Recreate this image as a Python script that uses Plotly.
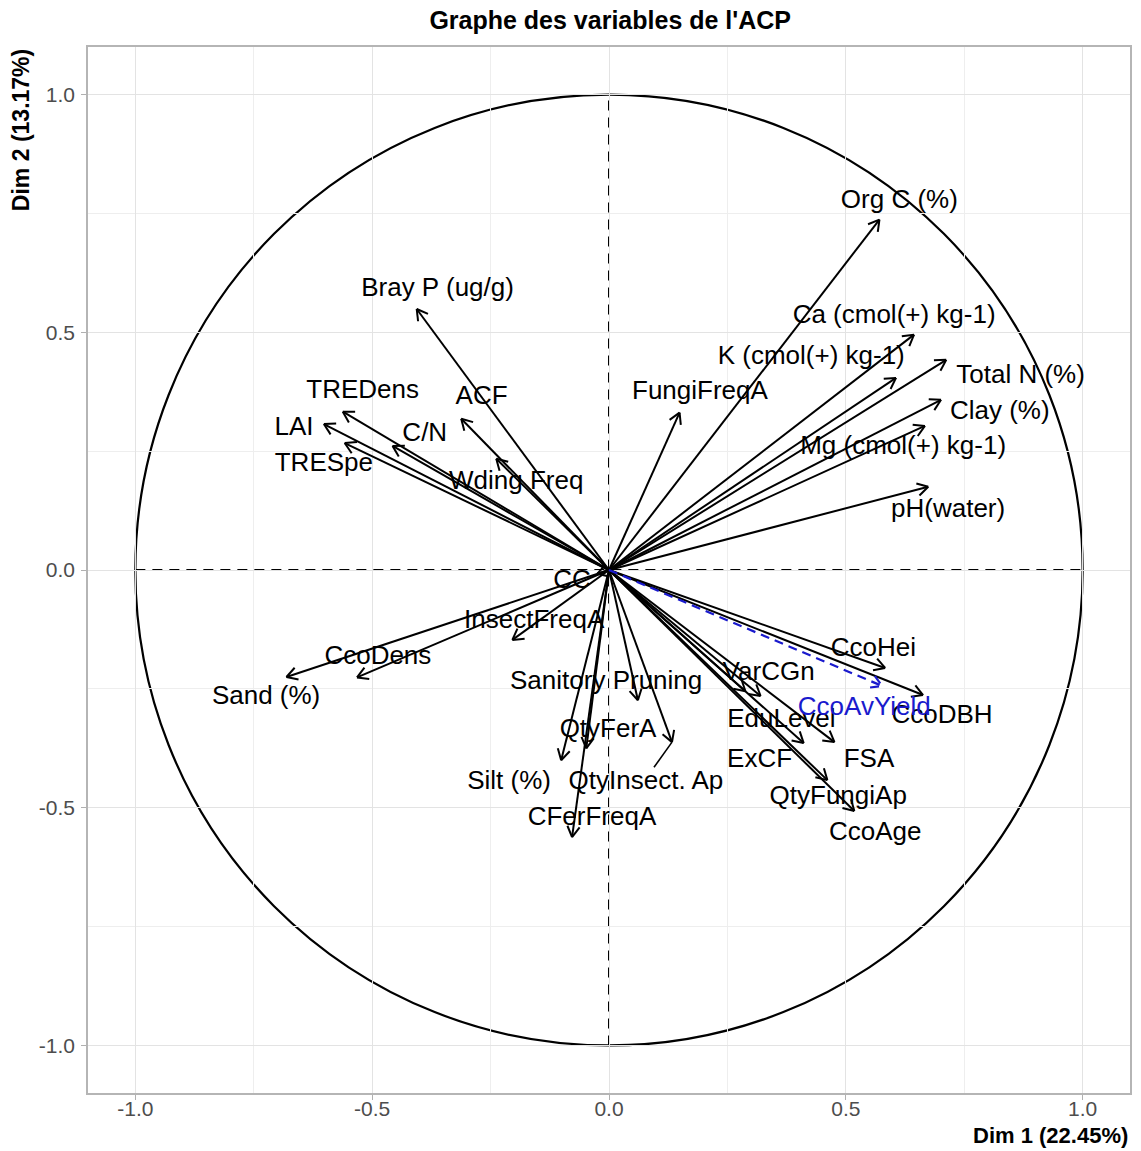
import numpy as np
import plotly.graph_objects as go

# Variable coordinates on the first two PCA dimensions
variables = ["Org C (%)", "Bray P (ug/g)", "Ca (cmol(+) kg-1)", "K (cmol(+) kg-1)",
             "Total N (%)", "Clay (%)", "Mg (cmol(+) kg-1)", "pH(water)", "FungiFreqA",
             "TREDens", "ACF", "LAI", "C/N", "TRESpe", "Wding Freq", "CC",
             "InsectFreqA", "CcoDens", "Sand (%)", "Sanitory Pruning", "QtyFerA",
             "Silt (%)", "QtyInsect. Ap", "CFerFreqA", "CcoHei", "VarCGn", "CcoDBH",
             "EduLevel", "ExCF", "FSA", "QtyFungiAp", "CcoAge"]
dim1 = [0.571, -0.406, 0.644, 0.606, 0.712, 0.701, 0.667, 0.674, 0.149,
        -0.562, -0.312, -0.602, -0.457, -0.558, -0.238, -0.025,
        -0.204, -0.532, -0.681, 0.061, -0.048,
        -0.101, 0.133, -0.078, 0.583, 0.320, 0.663,
        0.288, 0.411, 0.476, 0.461, 0.518]
dim2 = [0.737, 0.549, 0.495, 0.404, 0.442, 0.358, 0.303, 0.175, 0.331,
        0.333, 0.318, 0.307, 0.261, 0.267, 0.234, -0.008,
        -0.147, -0.226, -0.225, -0.274, -0.375,
        -0.400, -0.362, -0.562, -0.206, -0.265, -0.263,
        -0.255, -0.364, -0.362, -0.442, -0.507]

# Supplementary quantitative variable
sup_variables = ["CcoAvYield"]
sup_dim1 = [0.577]
sup_dim2 = [-0.244]

dim1_pct = 22.45
dim2_pct = 13.17

# Label placement (repelled positions in axis units)
label_pos = {
    "Org C (%)": (0.613, 0.775), "Bray P (ug/g)": (-0.362, 0.589),
    "Ca (cmol(+) kg-1)": (0.602, 0.533), "K (cmol(+) kg-1)": (0.427, 0.448),
    "Total N (%)": (0.869, 0.406), "Clay (%)": (0.825, 0.331),
    "Mg (cmol(+) kg-1)": (0.621, 0.257), "pH(water)": (0.716, 0.126),
    "FungiFreqA": (0.192, 0.373), "TREDens": (-0.520, 0.375), "ACF": (-0.269, 0.362),
    "LAI": (-0.665, 0.297), "C/N": (-0.389, 0.284), "TRESpe": (-0.602, 0.221),
    "Wding Freq": (-0.196, 0.185), "CC": (-0.078, -0.025),
    "InsectFreqA": (-0.158, -0.109), "CcoDens": (-0.488, -0.183),
    "Sand (%)": (-0.724, -0.269), "Sanitory Pruning": (-0.006, -0.236),
    "QtyFerA": (-0.002, -0.337), "Silt (%)": (-0.211, -0.446),
    "QtyInsect. Ap": (0.078, -0.446), "CFerFreqA": (-0.036, -0.522),
    "CcoHei": (0.558, -0.168), "VarCGn": (0.337, -0.217), "CcoDBH": (0.703, -0.309),
    "EduLevel": (0.364, -0.316), "ExCF": (0.318, -0.400), "FSA": (0.549, -0.400),
    "QtyFungiAp": (0.484, -0.478), "CcoAge": (0.562, -0.554),
    "CcoAvYield": (0.539, -0.291),
}
# Segment linking a repelled label back to its arrow
label_links = {"QtyInsect. Ap": (0.095, -0.415)}

HEAD_LEN = 0.026
HEAD_ANGLE = np.deg2rad(30)
FONT = "Liberation Sans, Arial, sans-serif"


def arrow_path(xs, ys):
    px, py = [], []
    for x, y in zip(xs, ys):
        px += [0, x, None]
        py += [0, y, None]
        ang = np.arctan2(y, x)
        for s in (1, -1):
            a = ang + np.pi + s * HEAD_ANGLE
            px += [x + HEAD_LEN * np.cos(a), x, None]
            py += [y + HEAD_LEN * np.sin(a), y, None]
    return px, py


fig = go.Figure()

ax, ay = arrow_path(dim1, dim2)
fig.add_trace(go.Scatter(x=ax, y=ay, mode="lines",
                         line=dict(color="black", width=2),
                         hoverinfo="skip", showlegend=False))

for name, (lx, ly) in label_links.items():
    i = variables.index(name)
    fig.add_trace(go.Scatter(x=[dim1[i], lx], y=[dim2[i], ly], mode="lines",
                             line=dict(color="black", width=1.6),
                             hoverinfo="skip", showlegend=False))

sx, sy = arrow_path(sup_dim1, sup_dim2)
fig.add_trace(go.Scatter(x=sx, y=sy, mode="lines",
                         line=dict(color="#1a1acd", width=2.2, dash="9px,6px"),
                         hoverinfo="skip", showlegend=False))

fig.add_trace(go.Scatter(
    x=[label_pos[v][0] for v in variables], y=[label_pos[v][1] for v in variables],
    mode="text", text=variables, textposition="middle center",
    textfont=dict(family=FONT, size=26, color="black"),
    hoverinfo="skip", showlegend=False))

fig.add_trace(go.Scatter(
    x=[label_pos[v][0] for v in sup_variables], y=[label_pos[v][1] for v in sup_variables],
    mode="text", text=sup_variables, textposition="middle center",
    textfont=dict(family=FONT, size=26, color="#1a1acd"),
    hoverinfo="skip", showlegend=False))

# Correlation circle and reference axes
fig.add_shape(type="circle", x0=-1, y0=-1, x1=1, y1=1,
              line=dict(color="black", width=2.2), layer="below")
fig.add_shape(type="line", x0=-1, y0=0, x1=1, y1=0,
              line=dict(color="black", width=2, dash="10px,7px"), layer="below")
fig.add_shape(type="line", x0=0, y0=-1, x1=0, y1=1,
              line=dict(color="black", width=2, dash="10px,7px"), layer="below")

major = [-1.0, -0.5, 0.0, 0.5, 1.0]
minor = [-0.75, -0.25, 0.25, 0.75]
axis_common = dict(
    range=[-1.1, 1.1], tickvals=major, ticktext=[f"{v:.1f}" for v in major],
    showgrid=True, gridcolor="#E3E3E3", gridwidth=1.2,
    minor=dict(tickvals=minor, showgrid=True, gridcolor="#EEEEEE", gridwidth=1, ticklen=0),
    zeroline=False, ticks="outside", ticklen=5, tickcolor="#B0B0B0", tickwidth=1.2,
    tickfont=dict(family=FONT, size=21, color="#4D4D4D"),
    showline=True, linecolor="#B5B5B5", linewidth=1.5, mirror=True,
    fixedrange=True,
)

fig.update_layout(
    width=1141, height=1151,
    margin=dict(l=88, r=9, t=47, b=58),
    paper_bgcolor="white", plot_bgcolor="white",
    xaxis=dict(**axis_common, ticklabelstandoff=-9),
    yaxis=dict(**axis_common, ticklabelstandoff=2),
    title=dict(text="<b>Graphe des variables de l'ACP</b>", x=0.5348, xanchor="center",
               y=1 - 20 / 1151, yanchor="middle", yref="container",
               font=dict(family=FONT, size=25, color="black")),
    annotations=[
        dict(text=f"<b>Dim 1 ({dim1_pct:.2f}%)</b>", xref="paper", yref="paper",
             x=1.0, y=-(1135 - 1093) / 1046, xanchor="right", yanchor="middle",
             showarrow=False, font=dict(family=FONT, size=22, color="black")),
        dict(text=f"<b>Dim 2 ({dim2_pct:.2f}%)</b>", xref="paper", yref="paper",
             x=(21 - 88) / 1044, y=1.0, xanchor="center", yanchor="top", textangle=-90,
             showarrow=False, font=dict(family=FONT, size=23, color="black")),
    ],
)

fig.write_html("out.html")
